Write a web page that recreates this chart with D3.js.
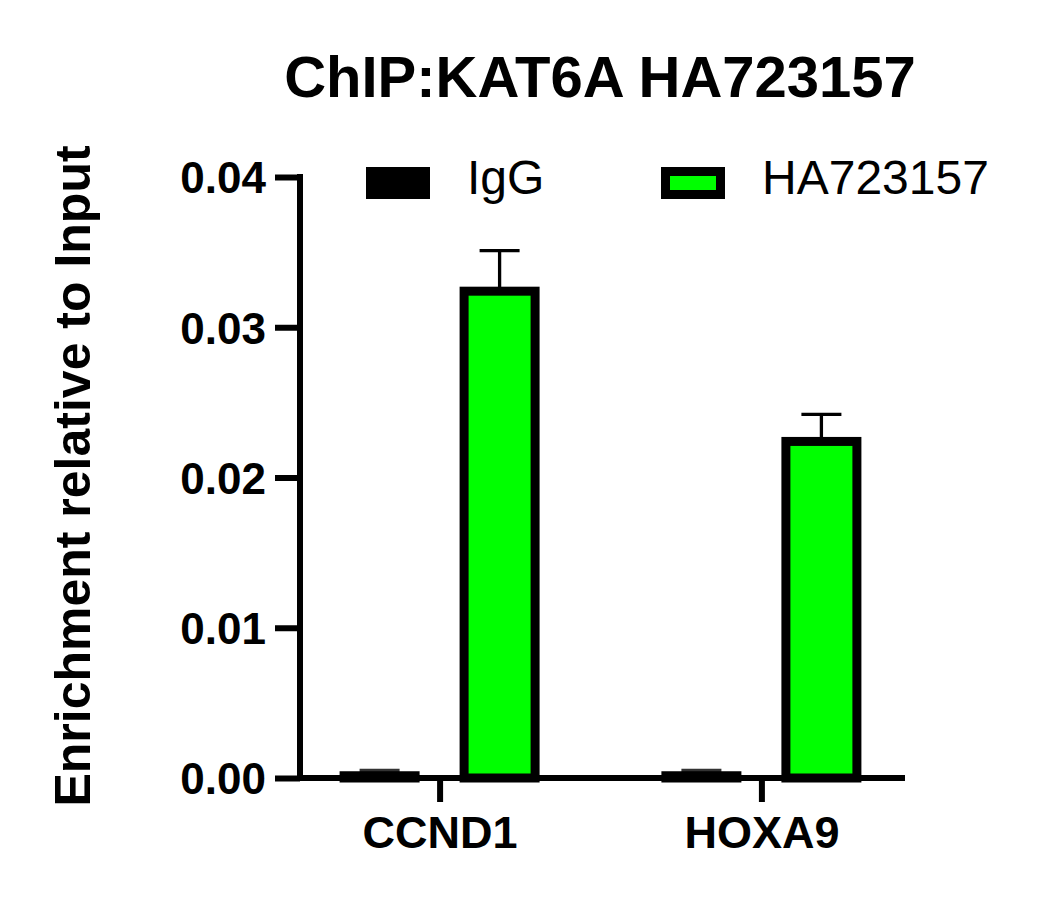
<!DOCTYPE html>
<html>
<head>
<meta charset="utf-8">
<script src="https://cdn.jsdelivr.net/npm/d3@7"></script>
<style>
  body { margin: 0; background: #fff; }
  #graph { width: 1043px; height: 917px; }
  text { font-family: "Liberation Sans", Arial, sans-serif; }
</style>
</head>
<body>
<div id="graph"></div>
<script>
// data
const categories = ["CCND1", "HOXA9"];
const seriesNames = ["IgG", "HA723157"];
const seriesColors = ["#000000", "#00ff00"];
const iggMeans = [0.00015, 0.00015];
const iggErrors = [0.00035, 0.00035];
const haMeans = [0.0324, 0.0224];
const haErrors = [0.0027, 0.0018];
const yTicks = [0, 0.01, 0.02, 0.03, 0.04];

const title = "ChIP:KAT6A HA723157";
const yTitle = "Enrichment relative to Input";

let svg, x, xSub, y;

function container() {
    return document.querySelector("#graph");
}

function makeRows() {
    const result = [];
    categories.forEach((c, i) => {
        result.push({ cat: c, series: seriesNames[0], value: iggMeans[i], err: iggErrors[i], color: seriesColors[0] });
        result.push({ cat: c, series: seriesNames[1], value: haMeans[i], err: haErrors[i], color: seriesColors[1] });
    });
    return result;
}

function makeScales() {
    x = d3.scalePoint().domain(categories).range([298, 903]).padding(0.44);
    xSub = d3.scaleBand().domain(seriesNames).range([-100, 100]).paddingInner(1 / 3);
    y = d3.scaleLinear().domain([0, 0.04]).range([778, 177]);
}

function main() {
    makeScales();
    const rows = makeRows();
    svg = d3.select(container()).append("svg")
        .attr("width", 1043)
        .attr("height", 917);

    svg.append("text")
        .attr("x", 600)
        .attr("y", 97)
        .attr("text-anchor", "middle")
        .style("font-size", "58px")
        .style("font-weight", "bold")
        .text(title);

    // error bars (only upwards, behind the bars)
    const errG = svg.append("g");
    rows.forEach(d => {
        const cx = x(d.cat) + xSub(d.series) + xSub.bandwidth() / 2;
        errG.append("line")
            .attr("x1", cx).attr("x2", cx)
            .attr("y1", y(d.value)).attr("y2", y(d.value + d.err))
            .attr("stroke", d.series === "IgG" ? "#333" : "#000")
            .attr("stroke-width", 3.3);
        errG.append("line")
            .attr("x1", cx - 20).attr("x2", cx + 20)
            .attr("y1", y(d.value + d.err)).attr("y2", y(d.value + d.err))
            .attr("stroke", d.series === "IgG" ? "#333" : "#000")
            .attr("stroke-width", 3.3);
    });

    const sw = 9;
    svg.append("g")
        .selectAll("rect")
        .data(rows)
        .join("rect")
        .attr("x", d => x(d.cat) + xSub(d.series) + sw / 2)
        .attr("width", xSub.bandwidth() - sw)
        .attr("y", d => y(d.value))
        .attr("height", d => Math.max(0, y(0) - y(d.value)))
        .attr("fill", d => d.color)
        .attr("stroke", "#000")
        .attr("stroke-width", sw);

    // y axis
    const yAxis = svg.append("g")
        .attr("transform", "translate(300,0)")
        .call(d3.axisLeft(y).tickValues(yTicks).tickFormat(d3.format(".2f")).tickSize(25).tickPadding(9));
    yAxis.select(".domain").attr("stroke-width", 6).attr("d", `M0,${y(0.04) - 3}V${y(0) + 3}`);
    yAxis.selectAll(".tick line").attr("stroke-width", 6);
    yAxis.selectAll(".tick text")
        .attr("fill", "#000")
        .style("font-size", "44px")
        .style("font-weight", "bold")
        .attr("dy", "0.36em")
        .style("font-family", "'Liberation Sans', Arial, sans-serif");

    // x axis
    const xAxis = svg.append("g")
        .attr("transform", `translate(0,${y(0)})`)
        .call(d3.axisBottom(x).tickSize(24).tickPadding(14));
    xAxis.select(".domain").attr("stroke-width", 6).attr("d", "M297,0H905");
    xAxis.selectAll(".tick line").attr("stroke-width", 6);
    xAxis.selectAll(".tick text")
        .attr("fill", "#000")
        .style("font-size", "45px")
        .style("font-weight", "bold")
        .style("font-family", "'Liberation Sans', Arial, sans-serif");

    // y title
    svg.append("text")
        .attr("transform", "translate(90,476) rotate(-90)")
        .attr("text-anchor", "middle")
        .style("font-size", "50px")
        .style("font-weight", "bold")
        .text(yTitle);

    // legend
    const legendX = [366, 661];
    const legend = svg.append("g");
    seriesNames.forEach((s, i) => {
        legend.append("rect")
            .attr("x", legendX[i] + sw / 2)
            .attr("y", 167 + sw / 2)
            .attr("width", 64 - sw)
            .attr("height", 32 - sw)
            .attr("fill", seriesColors[i])
            .attr("stroke", "#000")
            .attr("stroke-width", sw);
        legend.append("text")
            .attr("x", legendX[i] + 64 + 37)
            .attr("y", 194)
            .style("font-size", "48px")
            .text(s);
    });

    return svg.node();
}

main();
</script>
</body>
</html>
